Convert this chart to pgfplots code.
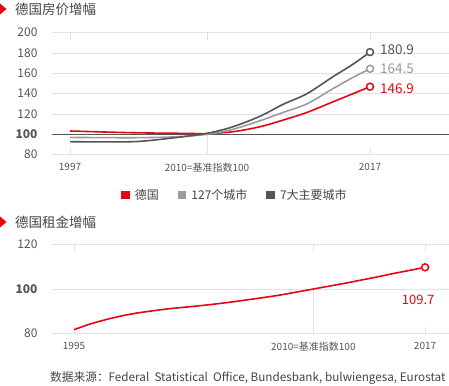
\documentclass[border=0pt]{standalone}
\usepackage{fontspec}
\setmainfont{Noto Sans CJK SC}
\usepackage{pgfplots}
\pgfplotsset{compat=1.18}
\definecolor{cred}{HTML}{E30613}
\definecolor{clight}{HTML}{9B9B9B}
\definecolor{cdark}{HTML}{555555}
\definecolor{ctxt}{HTML}{444444}
\definecolor{ctick}{HTML}{555555}
\definecolor{cgrid}{HTML}{E2E2E2}
\pgfplotsset{
  mystyle/.style={
    scale only axis,
    axis line style={draw=none},
    ymajorgrids,
    grid style={cgrid, line width=0.8pt},
    ytick style={draw=none},
    xtick style={draw=cgrid, line width=0.8pt},
    tick align=inside,
    major tick length=7pt,
    yticklabel style={font=\fontsize{12}{13}\selectfont, text=ctick, anchor=east, xshift=-11pt},
    xticklabel style={font=\fontsize{10}{11}\selectfont, text=ctick, yshift=-5pt},
    clip=false,
  }
}
\begin{document}
\begin{tikzpicture}
\useasboundingbox (0pt,0pt) rectangle (449pt,385pt);
% titles
\fill[cred] (0pt,381.5pt) -- (6.5pt,376pt) -- (0pt,370.5pt) -- cycle;
\node[anchor=west, font=\fontsize{13.5}{14}\selectfont, text=ctxt, inner sep=0] at (15pt,376pt) {德国房价增幅};
\fill[cred] (0pt,168.5pt) -- (6.5pt,163pt) -- (0pt,157.5pt) -- cycle;
\node[anchor=west, font=\fontsize{13.5}{14}\selectfont, text=ctxt, inner sep=0] at (15pt,163pt) {德国租金增幅};
\node[anchor=west, font=\fontsize{11.7}{12}\selectfont, text=ctxt, inner sep=0] at (50pt,7pt) {数据来源：Federal\ \ Statistical\ \ Office, Bundesbank, bulwiengesa, Eurostat};

\begin{axis}[mystyle,
  at={(52pt,230.3pt)}, anchor=south west,
  width=397pt, height=122pt,
  xmin=52, xmax=449, ymin=80, ymax=200,
  ytick={80,100,120,140,160,180,200},
  yticklabels={80,\textbf{100},120,140,160,180,200},
  xtick={70,207,370},
  xticklabels={1997,2010=基准指数100,2017},
  legend style={at={(0.461,-0.33)}, anchor=center, draw=none, fill=none,
    legend columns=3, font=\fontsize{12}{13}\selectfont, text=ctxt,
    /tikz/every odd column/.append style={column sep=3pt},
    /tikz/every even column/.append style={column sep=17pt}},
]
\draw[cgrid, line width=0.8pt] (axis cs:207,80) -- (axis cs:207,100);
\draw[cdark, line width=0.8pt] (axis cs:52,100) -- (axis cs:449,100);
\addplot[cred, line width=1.6pt, smooth, tension=0.5,
  legend image code/.code={\fill[cred] (0pt,-3.5pt) rectangle (7pt,3.5pt);}]
  coordinates {(70,103.3)(133,101.6)(183,101)(207,100.8)(233,102.6)(260,107.5)(283,114)(307,121.6)(333,132)(353,140)(370,146.9)};
\addlegendentry{德国}
\addplot[clight, line width=1.6pt, smooth, tension=0.5,
  legend image code/.code={\fill[clight] (0pt,-3.5pt) rectangle (7pt,3.5pt);}]
  coordinates {(70,97)(133,96.7)(173,97.5)(207,100)(233,105)(260,113.4)(283,121.5)(307,130)(333,145)(353,156)(370,164.5)};
\addlegendentry{127个城市}
\addplot[cdark, line width=1.6pt, smooth, tension=0.5,
  legend image code/.code={\fill[cdark] (0pt,-3.5pt) rectangle (7pt,3.5pt);}]
  coordinates {(70,92.8)(133,92.8)(173,96.5)(207,101)(233,107.5)(260,117.8)(283,129.5)(307,140)(333,156.7)(353,169)(370,180.9)};
\addlegendentry{7大主要城市}
\addplot[cred, line width=1.5pt, only marks, mark=*, mark size=3.5pt, mark options={fill=white}, forget plot] coordinates {(370,146.9)};
\addplot[clight, line width=1.5pt, only marks, mark=*, mark size=3.5pt, mark options={fill=white}, forget plot] coordinates {(370,164.5)};
\addplot[cdark, line width=1.5pt, only marks, mark=*, mark size=3.5pt, mark options={fill=white}, forget plot] coordinates {(370,180.9)};
\node[anchor=west, text=cdark, font=\fontsize{13.5}{14}\selectfont, inner sep=0] at (axis cs:380,183.3) {180.9};
\node[anchor=west, text=clight, font=\fontsize{13.5}{14}\selectfont, inner sep=0] at (axis cs:380,164.6) {164.5};
\node[anchor=west, text=cred, font=\fontsize{13.5}{14}\selectfont, inner sep=0] at (axis cs:380,145) {146.9};
\end{axis}

\begin{axis}[mystyle,
  at={(52pt,51.3pt)}, anchor=south west,
  width=397pt, height=89.4pt,
  xmin=1993.62, xmax=2018.5, ymin=80, ymax=120,
  ytick={80,100,120},
  yticklabels={80,\textbf{100},120},
  xtick={1995,2010,2017},
  xticklabels={1995,2010=基准指数100,2017},
]
\draw[cgrid, line width=0.8pt] (axis cs:2010,80) -- (axis cs:2010,100);
\addplot[cred, line width=1.6pt, smooth, tension=0.5]
  coordinates {(1995,81.8)(1996,84.3)(1997,86.3)(1998,88)(1999,89.3)(2000,90.3)(2001,91.2)(2002,91.9)(2003,92.6)(2004,93.4)(2005,94.3)(2006,95.3)(2007,96.3)(2008,97.4)(2009,98.7)(2010,100)(2011,101.3)(2012,102.6)(2013,104)(2014,105.4)(2015,106.9)(2016,108.3)(2017,109.7)};
\addplot[cred, line width=1.5pt, only marks, mark=*, mark size=3.5pt, mark options={fill=white}] coordinates {(2017,109.7)};
\node[anchor=center, text=cred, font=\fontsize{13}{14}\selectfont, inner sep=0] at (axis cs:2016.57,95.1) {109.7};
\end{axis}
\end{tikzpicture}
\end{document}
